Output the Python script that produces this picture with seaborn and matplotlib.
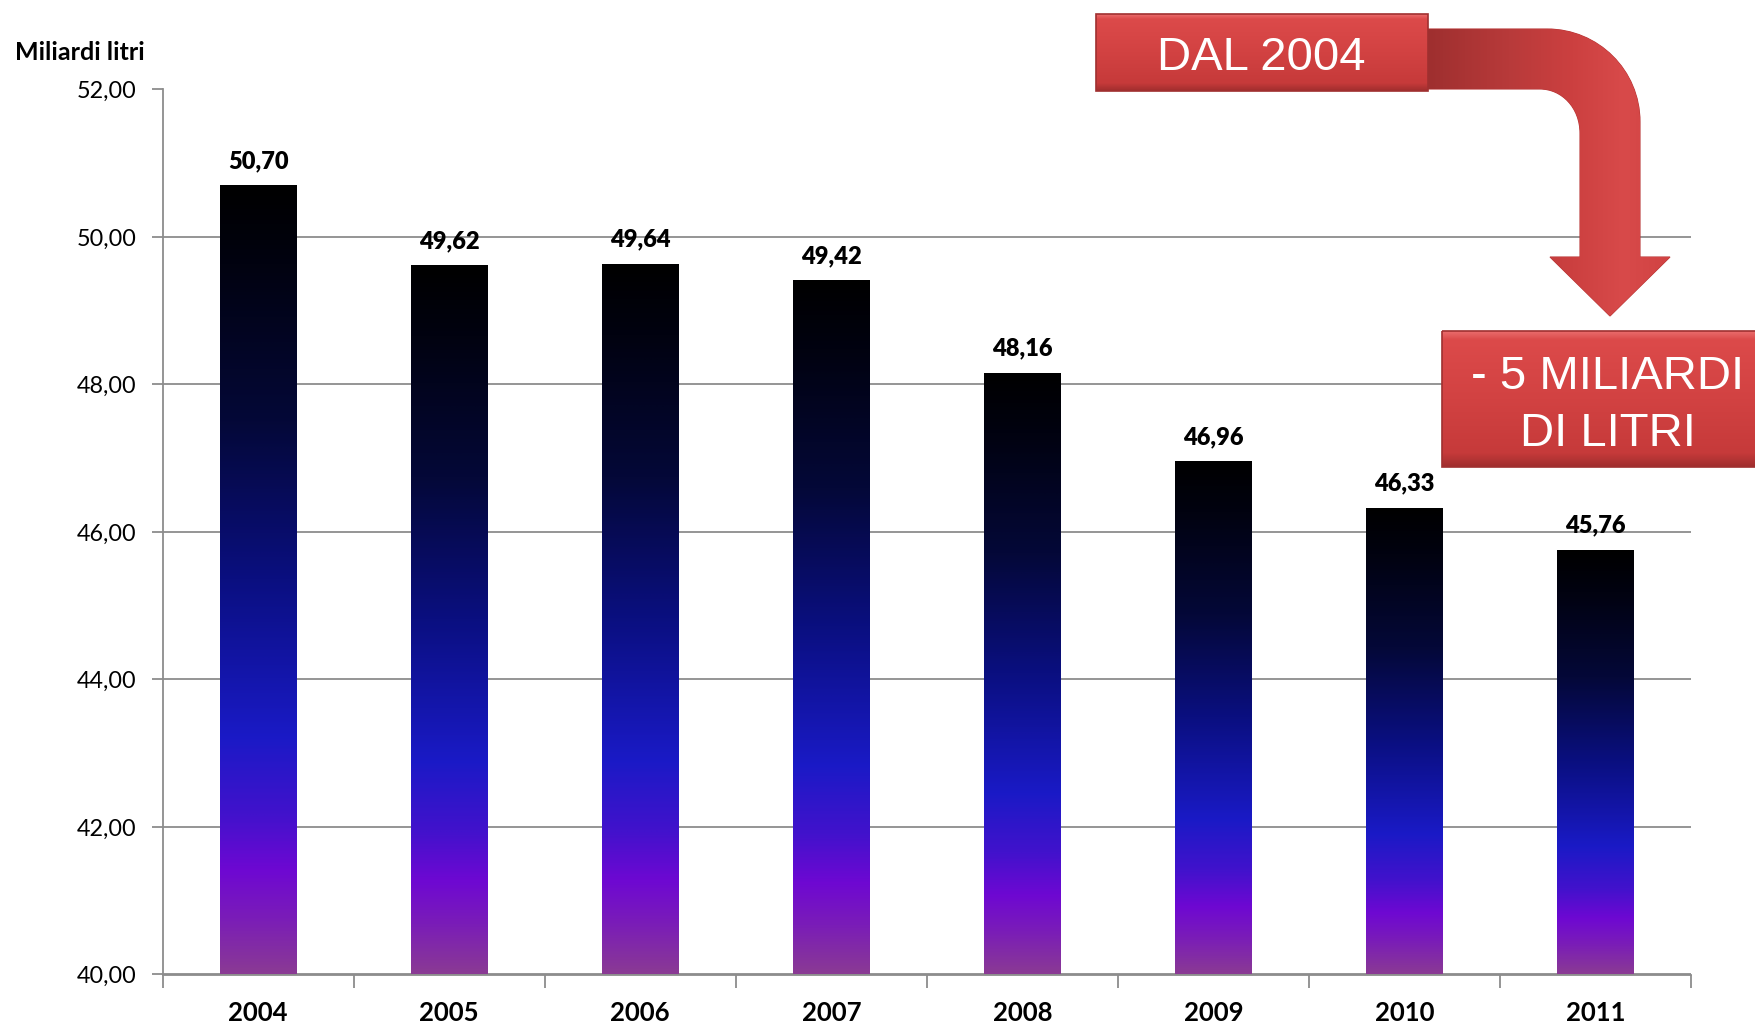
import numpy as np
import pandas as pd
import matplotlib
matplotlib.use('Agg')
import matplotlib.pyplot as plt
import seaborn as sns
from matplotlib.colors import LinearSegmentedColormap
from matplotlib.path import Path
from matplotlib.patches import PathPatch, Rectangle
from matplotlib.ticker import FuncFormatter, FixedLocator

# ---- data ----
years = ['2004', '2005', '2006', '2007', '2008', '2009', '2010', '2011']
values = [50.70, 49.62, 49.64, 49.42, 48.16, 46.96, 46.33, 45.76]
y_ticks = [40, 42, 44, 46, 48, 50, 52]
y_label = 'Miliardi litri'
box1_text = 'DAL 2004'
box2_lines = ['- 5 MILIARDI', 'DI LITRI']

sns.set_theme(style='white')
plt.rcParams['font.family'] = ['Lato', 'DejaVu Sans']

W, H = 1755, 1025
fig = plt.figure(figsize=(W / 100, H / 100), dpi=100)
ax = fig.add_axes([162.7 / W, 1 - 974.5 / H, (1691 - 162.7) / W, (974.5 - 89.5) / H])

df = pd.DataFrame({'year': years, 'value': values})
sns.barplot(data=df, x='year', y='value', width=0.4, color='black', ax=ax, zorder=2)
ax.set_ylim(40, 52)
ax.set_xlim(-0.5, len(years) - 0.5)

bar_cmap = LinearSegmentedColormap.from_list('bar', [
    (0.0, '#000000'), (0.1, '#010210'), (0.3, '#040838'), (0.5, '#0a0f80'),
    (0.7, '#1a1ac6'), (0.8, '#4212cc'), (0.87, '#6e08d2'), (0.93, '#7a1cb8'),
    (1.0, '#8a3a94')])
grad_v = np.linspace(0, 1, 512).reshape(-1, 1)
for p in list(ax.patches):
    x0, w, h = p.get_x(), p.get_width(), p.get_height()
    im = ax.imshow(grad_v, cmap=bar_cmap, extent=[x0, x0 + w, 40, h],
                   origin='upper', aspect='auto', zorder=2.5, interpolation='bilinear')
    im.set_clip_path(p)
    p.set_facecolor('none')
    p.set_edgecolor('none')
ax.set_ylim(40, 52)
ax.set_xlim(-0.5, len(years) - 0.5)

for i, v in enumerate(values):
    ax.annotate(f"{v:.2f}".replace('.', ','), (i, v), xytext=(0, 12.2),
                textcoords='offset points', ha='center', va='baseline',
                fontsize=17, fontweight='heavy', color='black', zorder=5)

gray = '#8c8c8c'
ax.yaxis.set_major_locator(FixedLocator(y_ticks))
ax.yaxis.set_major_formatter(FuncFormatter(lambda v, pos: f"{v:.2f}".replace('.', ',')))
ax.set_xticks(range(len(years)))
ax.set_xticks(np.arange(-0.5, len(years), 1), minor=True)
ax.tick_params(axis='y', left=True, length=8, width=1.3, color=gray, pad=11,
               labelsize=16.8, labelcolor='black')
ax.tick_params(axis='x', which='major', bottom=True, length=0, pad=19,
               labelsize=18.5, labelcolor='black')
ax.tick_params(axis='x', which='minor', bottom=True, length=9, width=1.3, color=gray)
for t in ax.get_xticklabels():
    t.set_fontweight('bold')
ax.set_xlabel('')
ax.set_ylabel('')
ax.grid(axis='y', color=gray, lw=1.3)
ax.set_axisbelow(True)
for s in ['top', 'right']:
    ax.spines[s].set_visible(False)
for s in ['left', 'bottom']:
    ax.spines[s].set_color(gray)
    ax.spines[s].set_linewidth(1.3)

fig.text(15 / W, 1 - 60 / H, y_label, fontsize=18, fontweight='bold',
         ha='left', va='baseline', color='black')

# ---- decorations (pixel coordinates) ----
deco = fig.add_axes([0, 0, 1, 1], zorder=10)
deco.set_facecolor('none')
deco.axis('off')

# bent arrow
verts = [(1420, 29), (1547, 29), (1598, 29), (1640, 70), (1640, 122),
         (1640, 257), (1670, 257), (1610, 316), (1550, 257), (1580, 257),
         (1580, 133), (1580, 108), (1562, 89), (1540, 89), (1420, 89), (1420, 29)]
codes = [Path.MOVETO, Path.LINETO, Path.CURVE4, Path.CURVE4, Path.CURVE4,
         Path.LINETO, Path.LINETO, Path.LINETO, Path.LINETO, Path.LINETO,
         Path.LINETO, Path.CURVE4, Path.CURVE4, Path.CURVE4, Path.LINETO, Path.CLOSEPOLY]
arrow = PathPatch(Path(verts, codes), facecolor='#cc3d3d', edgecolor='#b83636', lw=0.8, zorder=1)
deco.add_patch(arrow)
arr_cmap = LinearSegmentedColormap.from_list('arr', [
    (0.0, '#9c2e2e'), (0.35, '#b83a3a'), (0.6, '#cc4040'), (0.8, '#d84a4a'), (1.0, '#d04242')])
im = deco.imshow(np.linspace(0, 1, 256).reshape(1, -1), cmap=arr_cmap,
                 extent=[1420, 1675, 320, 20], origin='upper', aspect='auto',
                 zorder=1.2, interpolation='bilinear')
im.set_clip_path(arrow)

box_cmap = LinearSegmentedColormap.from_list('box', [
    (0.0, '#ea6c6c'), (0.06, '#dc4a4a'), (0.5, '#d24242'), (0.9, '#c63a3a'), (1.0, '#a02e2e')])


def red_box(x0, y0, x1, y1, z):
    deco.imshow(np.linspace(0, 1, 128).reshape(-1, 1), cmap=box_cmap,
                extent=[x0, x1, y1, y0], origin='upper', aspect='auto',
                zorder=z, interpolation='bilinear')
    deco.add_patch(Rectangle((x0, y0), x1 - x0, y1 - y0, fill=False,
                             ec='#a03030', lw=1.2, zorder=z + 0.1))


red_box(1096, 14, 1428, 91, 2)
red_box(1442, 331, 1775, 467, 2)

sans = ['Liberation Sans', 'DejaVu Sans']
deco.text(1261, 70, box1_text, color='white', fontsize=34, ha='center',
          va='baseline', family=sans, zorder=3)
deco.text(1608, 389, box2_lines[0], color='white', fontsize=34, ha='center',
          va='baseline', family=sans, zorder=3)
deco.text(1608, 446, box2_lines[1], color='white', fontsize=34, ha='center',
          va='baseline', family=sans, zorder=3)

deco.set_xlim(0, W)
deco.set_ylim(H, 0)

fig.savefig('out.png', dpi=100)
